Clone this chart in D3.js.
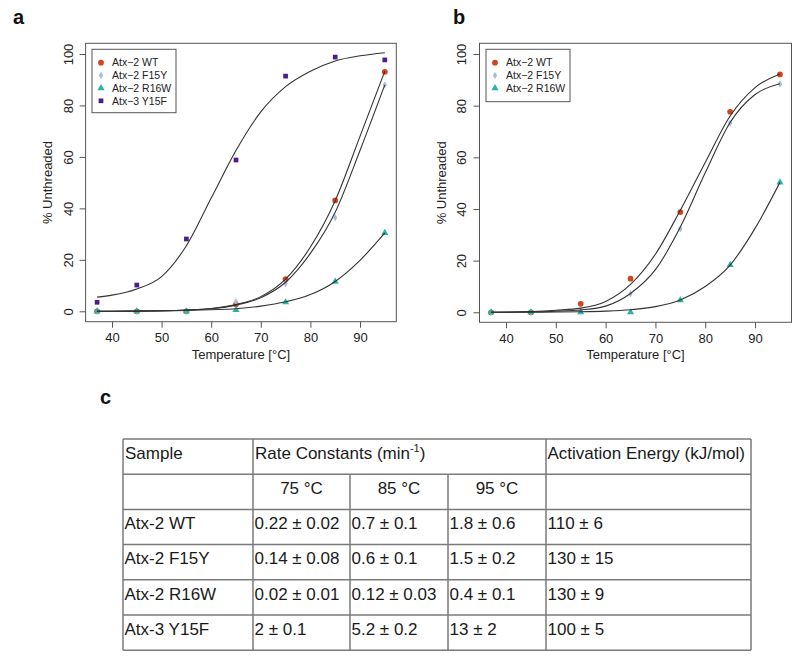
<!DOCTYPE html>
<html><head><meta charset="utf-8">
<script src="https://cdn.jsdelivr.net/npm/d3@7"></script>
<style>body{margin:0;background:#fff}svg{display:block;font-family:"Liberation Sans",Arial,sans-serif}</style>
</head><body><svg id="c" width="800" height="659"></svg>
<script>
// ---------- data ----------
const temps = [37, 45, 55, 65, 75, 85, 95];
const xTicks = [40, 50, 60, 70, 80, 90];
const yTicks = [0, 20, 40, 60, 80, 100];
const seriesNames = ["Atx\u22122 WT", "Atx\u22122 F15Y", "Atx\u22122 R16W", "Atx\u22123 Y15F"];
const seriesColors = ["#d4431b", "#a9bdd8", "#27b5a6", "#4b1c8c"];
const seriesShapes = ["circle", "diamond", "triangle", "square"];

// panel a measured points
const aWT   = [0, 0, 0, 2.7, 12.5, 43.1, 93.1];
const aF15Y = [0, 0, 0, 3.6, 10.8, 36.4, 88.0];
const aR16W = [0, 0, 0, 0.5, 3.5, 11.5, 30.5];
const aY15F = [3.5, 10.2, 28.1, 58.8, 91.4, 98.8, 97.7];
// panel b measured points
const bWT   = [0, 0, 3.3, 13.0, 38.8, 77.6, 92.1];
const bF15Y = [0, 0, 0.5, 7.2, 32.3, 73.3, 88.4];
const bR16W = [0, 0, 0, 0, 4.7, 18.3, 50.3];

// fitted curves
const curveTemps = [37, 40, 45, 50, 55, 60, 65, 70, 75, 80, 85, 90, 95];
const aFitWT   = [0, 0, 0.05, 0.2, 0.5, 1.1, 2.6, 5.7, 12.5, 25, 43, 68, 93.3];
const aFitF15Y = [0, 0, 0.05, 0.2, 0.5, 1.0, 2.4, 5.3, 11.3, 22.5, 38.5, 62.5, 88];
const aFitR16W = [0, 0.02, 0.05, 0.15, 0.3, 0.6, 1.0, 2.0, 3.7, 6.5, 11.6, 19.8, 30.5];
const aFitY15F = [5.5, 6.3, 8.7, 13.5, 25.5, 44, 62.5, 77.5, 87.3, 93.3, 97.3, 99.3, 100.5];
const bFitWT   = [0, 0.05, 0.3, 0.8, 1.6, 4.2, 10.8, 22.5, 39.5, 58, 76, 87, 92.3];
const bFitF15Y = [0, 0.03, 0.15, 0.4, 0.9, 2.4, 7.3, 16.5, 33, 54, 73.5, 84.3, 88.5];
const bFitR16W = [0, 0.01, 0.05, 0.1, 0.2, 0.45, 1.0, 2.2, 4.8, 10, 18.3, 32.5, 50.3];

// table
const tableSamples = ["Atx-2 WT", "Atx-2 F15Y", "Atx-2 R16W", "Atx-3 Y15F"];
const tableTemps = ["75 \u00B0C", "85 \u00B0C", "95 \u00B0C"];
const rate75 = ["0.22 \u00B1 0.02", "0.14 \u00B1 0.08", "0.02 \u00B1 0.01", "2 \u00B1 0.1"];
const rate85 = ["0.7 \u00B1 0.1", "0.6 \u00B1 0.1", "0.12 \u00B1 0.03", "5.2 \u00B1 0.2"];
const rate95 = ["1.8 \u00B1 0.6", "1.5 \u00B1 0.2", "0.4 \u00B1 0.1", "13 \u00B1 2"];
const activation = ["110 \u00B1 6", "130 \u00B1 15", "130 \u00B1 9", "100 \u00B1 5"];

// ---------- drawing ----------
const svg = d3.select("#c");
const symType = {circle: d3.symbolCircle, diamond: d3.symbolDiamond, triangle: d3.symbolTriangle, square: d3.symbolSquare};
const symSize = {circle: 26, diamond: 16, triangle: 22, square: 22};

function panel(opts) {
  const x = d3.scaleLinear().domain([34.68, 97.32]).range([opts.left, opts.right]);
  const y = d3.scaleLinear().domain([0, 100]).range([opts.y0, opts.y100]);
  const g = svg.append("g");
  // box
  g.append("rect").attr("x", opts.left).attr("y", opts.top)
    .attr("width", opts.right - opts.left).attr("height", opts.bottom - opts.top)
    .attr("fill", "none").attr("stroke", "#555").attr("stroke-width", 1);
  // x axis
  const xa = g.append("g").attr("transform", `translate(0,${opts.bottom})`)
    .call(d3.axisBottom(x).tickValues(xTicks).tickSize(6).tickFormat(d3.format("d")));
  xa.select(".domain").remove();
  xa.selectAll("line").attr("stroke", "#555");
  xa.selectAll("text").attr("y", 11).attr("dy", "0.71em").attr("font-size", 13)
    .attr("fill", "#222").attr("font-family", "Liberation Sans, Arial, sans-serif");
  // y axis
  const ya = g.append("g").attr("transform", `translate(${opts.left},0)`)
    .call(d3.axisLeft(y).tickValues(yTicks).tickSize(6).tickFormat(d3.format("d")));
  ya.select(".domain").remove();
  ya.selectAll("line").attr("stroke", "#555");
  ya.selectAll("text").attr("transform", "rotate(-90)").attr("x", 0).attr("y", -opts.yLabOff)
    .attr("dy", "0.35em").attr("text-anchor", "middle").attr("font-size", 13)
    .attr("fill", "#222").attr("font-family", "Liberation Sans, Arial, sans-serif");
  // titles
  g.append("text").attr("x", (opts.left + opts.right) / 2).attr("y", 359)
    .attr("text-anchor", "middle").attr("font-size", 13).attr("fill", "#222")
    .text("Temperature [\u00B0C]");
  g.append("text").attr("transform", `translate(${opts.yTitleX},${(opts.top + opts.bottom) / 2}) rotate(-90)`)
    .attr("dy", "0.35em").attr("text-anchor", "middle").attr("font-size", 13).attr("fill", "#222")
    .text("% Unthreaded");
  // points
  opts.series.forEach(s => {
    g.append("g").selectAll("path").data(temps.map((t, i) => [t, s.values[i]])).join("path")
      .attr("transform", d => `translate(${x(d[0])},${y(d[1])})`)
      .attr("d", d3.symbol().type(symType[seriesShapes[s.idx]]).size(symSize[seriesShapes[s.idx]]))
      .attr("fill", seriesColors[s.idx]);
  });
  // fitted curves
  const line = d3.line().x(d => x(d[0])).y(d => y(d[1])).curve(d3.curveMonotoneX);
  opts.series.forEach(s => {
    g.append("path").datum(curveTemps.map((t, i) => [t, s.fit[i]]))
      .attr("d", line).attr("fill", "none").attr("stroke", "#333").attr("stroke-width", 1.1);
  });
  // legend
  const L = opts.legend;
  g.append("rect").attr("x", L.x).attr("y", L.y).attr("width", L.w).attr("height", L.h)
    .attr("fill", "#fff").attr("stroke", "#555").attr("stroke-width", 1);
  opts.series.forEach((s, i) => {
    const cy = L.y + 13.4 + i * 12.7;
    g.append("path").attr("transform", `translate(${L.x + 9},${cy})`)
      .attr("d", d3.symbol().type(symType[seriesShapes[s.idx]]).size(symSize[seriesShapes[s.idx]]))
      .attr("fill", seriesColors[s.idx]);
    g.append("text").attr("x", L.x + 20).attr("y", cy).attr("dy", "0.36em")
      .attr("font-size", 10.5).attr("fill", "#222").text(seriesNames[s.idx]);
  });
  // panel label
  g.append("text").attr("x", opts.labX).attr("y", 24).attr("font-size", 20).attr("font-weight", "bold")
    .attr("fill", "#111").text(opts.label);
}

panel({
  label: "a", labX: 13, left: 85.6, right: 396.3, top: 43.3, bottom: 321.7, y0: 311.3, y100: 54,
  yLabOff: 17.6, yTitleX: 47.5,
  legend: {x: 92, y: 49.3, w: 84, h: 63.4},
  series: [
    {idx: 0, values: aWT, fit: aFitWT},
    {idx: 1, values: aF15Y, fit: aFitF15Y},
    {idx: 2, values: aR16W, fit: aFitR16W},
    {idx: 3, values: aY15F, fit: aFitY15F}
  ]
});
panel({
  label: "b", labX: 453, left: 479.5, right: 791.5, top: 43.3, bottom: 322.3, y0: 312.3, y100: 54,
  yLabOff: 17.8, yTitleX: 441.7,
  legend: {x: 486, y: 49.3, w: 84, h: 52.4},
  series: [
    {idx: 0, values: bWT, fit: bFitWT},
    {idx: 1, values: bF15Y, fit: bFitF15Y},
    {idx: 2, values: bR16W, fit: bFitR16W}
  ]
});

// ---------- table ----------
svg.append("text").attr("x", 100).attr("y", 403.5).attr("font-size", 20).attr("font-weight", "bold")
  .attr("fill", "#111").text("c");
const colX = [123, 253, 350, 448, 546, 751];
const rowY = [439, 474.2, 509.4, 544.6, 579.8, 615, 650.2];
const tg = svg.append("g").attr("font-size", 17).attr("fill", "#1a1a1a");
const lineC = "#7a7a7a", lineW = 1.5;
// horizontal lines
rowY.forEach(yv => tg.append("line").attr("x1", colX[0]).attr("x2", colX[5]).attr("y1", yv).attr("y2", yv)
  .attr("stroke", lineC).attr("stroke-width", lineW));
// vertical lines
[0, 1, 4, 5].forEach(ci => tg.append("line").attr("x1", colX[ci]).attr("x2", colX[ci])
  .attr("y1", rowY[0]).attr("y2", rowY[6]).attr("stroke", lineC).attr("stroke-width", lineW));
[2, 3].forEach(ci => tg.append("line").attr("x1", colX[ci]).attr("x2", colX[ci])
  .attr("y1", rowY[1]).attr("y2", rowY[6]).attr("stroke", lineC).attr("stroke-width", lineW));
const base = 19.8;
tg.append("text").attr("x", colX[0] + 2).attr("y", rowY[0] + base).text("Sample");
const rc = tg.append("text").attr("x", colX[1] + 2).attr("y", rowY[0] + base);
rc.append("tspan").text("Rate Constants (min");
rc.append("tspan").attr("font-size", 11).attr("dy", -7).text("-1");
rc.append("tspan").attr("dy", 7).text(")");
tg.append("text").attr("x", colX[4] + 1.5).attr("y", rowY[0] + base).text("Activation Energy (kJ/mol)");
tableTemps.forEach((t, i) => tg.append("text").attr("x", (colX[i + 1] + colX[i + 2]) / 2)
  .attr("y", rowY[1] + base).attr("text-anchor", "middle").text(t));
const cols = [tableSamples, rate75, rate85, rate95, activation];
tableSamples.forEach((s, r) => {
  cols.forEach((col, ci) => tg.append("text").attr("x", colX[ci] + 1.5).attr("y", rowY[r + 2] + base).text(col[r]));
});
</script></body></html>
